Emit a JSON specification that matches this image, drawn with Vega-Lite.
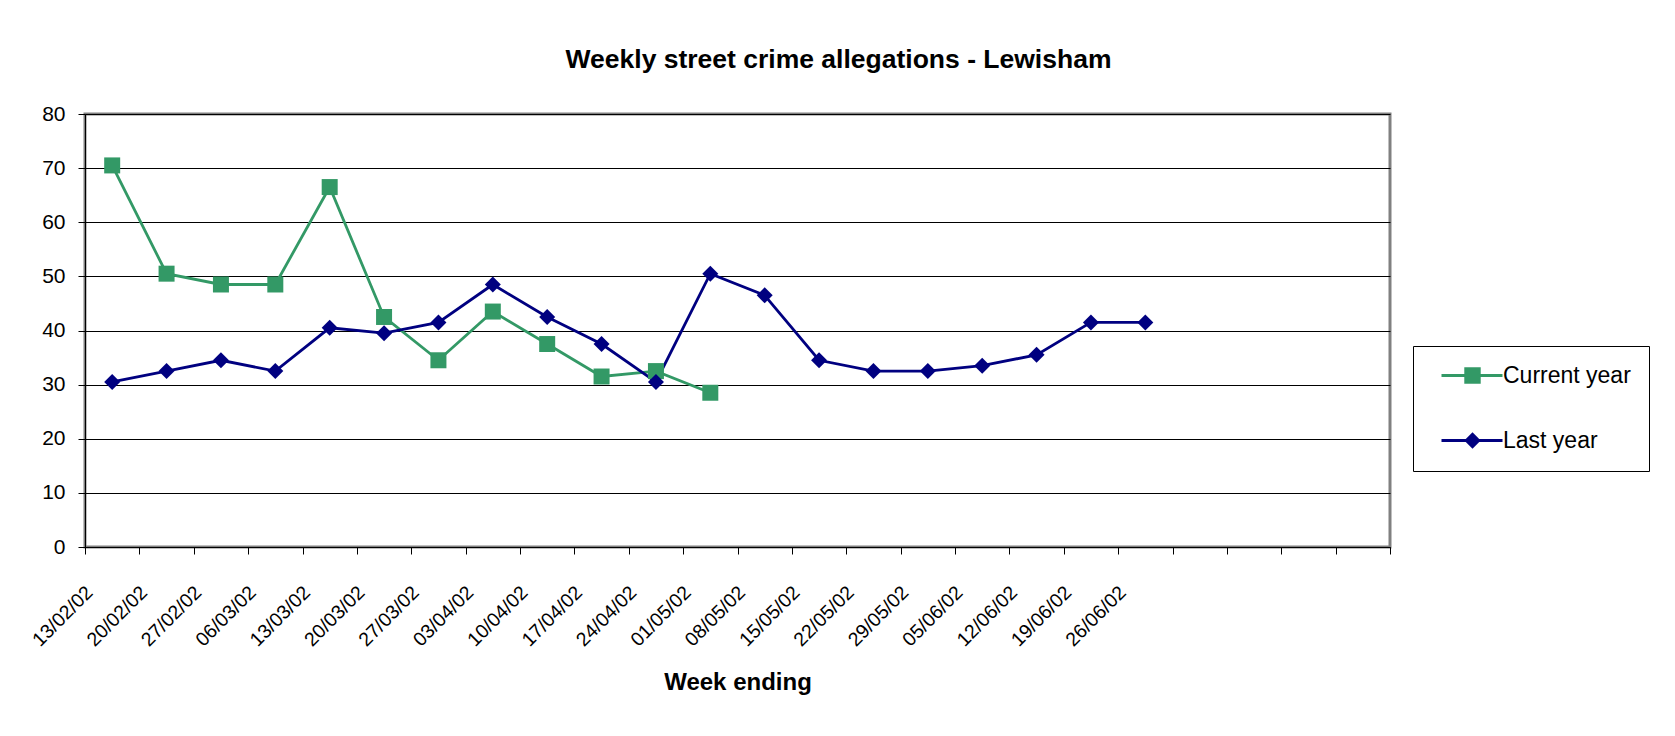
{
  "$schema": "https://vega.github.io/schema/vega-lite/v6.json",
  "autosize": "none",
  "width": 1305,
  "height": 433,
  "padding": {"left": 85, "top": 114, "right": 285, "bottom": 189},
  "background": "white",
  "title": {
    "text": "Weekly street crime allegations - Lewisham",
    "font": "Liberation Sans",
    "fontSize": 26.5,
    "fontWeight": "bold",
    "color": "black",
    "anchor": "middle",
    "frame": "group",
    "dx": 101,
    "baseline": "alphabetic",
    "offset": 9
  },
  "config": {
    "view": {"stroke": "#808080", "strokeWidth": 3},
    "font": "Liberation Sans"
  },
  "data": {
    "values": [
      {"week": "13/02/02", "series": "Current year", "allegations": 70.5},
      {"week": "20/02/02", "series": "Current year", "allegations": 50.5},
      {"week": "27/02/02", "series": "Current year", "allegations": 48.5},
      {"week": "06/03/02", "series": "Current year", "allegations": 48.5},
      {"week": "13/03/02", "series": "Current year", "allegations": 66.5},
      {"week": "20/03/02", "series": "Current year", "allegations": 42.5},
      {"week": "27/03/02", "series": "Current year", "allegations": 34.5},
      {"week": "03/04/02", "series": "Current year", "allegations": 43.5},
      {"week": "10/04/02", "series": "Current year", "allegations": 37.5},
      {"week": "17/04/02", "series": "Current year", "allegations": 31.5},
      {"week": "24/04/02", "series": "Current year", "allegations": 32.5},
      {"week": "01/05/02", "series": "Current year", "allegations": 28.5},
      {"week": "13/02/02", "series": "Last year", "allegations": 30.5},
      {"week": "20/02/02", "series": "Last year", "allegations": 32.5},
      {"week": "27/02/02", "series": "Last year", "allegations": 34.5},
      {"week": "06/03/02", "series": "Last year", "allegations": 32.5},
      {"week": "13/03/02", "series": "Last year", "allegations": 40.5},
      {"week": "20/03/02", "series": "Last year", "allegations": 39.5},
      {"week": "27/03/02", "series": "Last year", "allegations": 41.5},
      {"week": "03/04/02", "series": "Last year", "allegations": 48.5},
      {"week": "10/04/02", "series": "Last year", "allegations": 42.5},
      {"week": "17/04/02", "series": "Last year", "allegations": 37.5},
      {"week": "24/04/02", "series": "Last year", "allegations": 30.5},
      {"week": "01/05/02", "series": "Last year", "allegations": 50.5},
      {"week": "08/05/02", "series": "Last year", "allegations": 46.5},
      {"week": "15/05/02", "series": "Last year", "allegations": 34.5},
      {"week": "22/05/02", "series": "Last year", "allegations": 32.5},
      {"week": "29/05/02", "series": "Last year", "allegations": 32.5},
      {"week": "05/06/02", "series": "Last year", "allegations": 33.5},
      {"week": "12/06/02", "series": "Last year", "allegations": 35.5},
      {"week": "19/06/02", "series": "Last year", "allegations": 41.5},
      {"week": "26/06/02", "series": "Last year", "allegations": 41.5}
    ]
  },
  "encoding": {
    "x": {
      "field": "week",
      "type": "ordinal",
      "scale": {
        "type": "band",
        "domain": ["13/02/02", "20/02/02", "27/02/02", "06/03/02", "13/03/02", "20/03/02", "27/03/02", "03/04/02", "10/04/02", "17/04/02", "24/04/02", "01/05/02", "08/05/02", "15/05/02", "22/05/02", "29/05/02", "05/06/02", "12/06/02", "19/06/02", "26/06/02", " ", "  ", "   ", "    "],
        "paddingInner": 0,
        "paddingOuter": 0
      },
      "axis": {
        "title": "Week ending",
        "titleFont": "Liberation Sans",
        "titleFontSize": 24,
        "titleFontWeight": "bold",
        "titleColor": "black",
        "titlePadding": 21,
        "domainColor": "black",
        "domainWidth": 1,
        "tickColor": "black",
        "tickWidth": 1,
        "tickSize": 7,
        "tickBand": "extent",
        "grid": false,
        "labelAngle": -45,
        "labelAlign": "right",
        "labelBaseline": "middle",
        "labelFont": "Liberation Sans",
        "labelFontSize": 19.5,
        "labelColor": "black",
        "labelPadding": 35,
        "labelOffset": -23,
        "labelOverlap": false
      }
    },
    "y": {
      "field": "allegations",
      "type": "quantitative",
      "scale": {"domain": [0, 80], "nice": false},
      "axis": {
        "title": null,
        "values": [0, 10, 20, 30, 40, 50, 60, 70, 80],
        "domainColor": "black",
        "domainWidth": 1,
        "tickColor": "black",
        "tickWidth": 1,
        "tickSize": 7,
        "grid": true,
        "gridColor": "black",
        "gridWidth": 1,
        "gridOpacity": 1,
        "labelFont": "Liberation Sans",
        "labelFontSize": 21,
        "labelColor": "black",
        "labelPadding": 13
      }
    }
  },
  "layer": [
    {
      "mark": {"type": "line", "strokeWidth": 2.8},
      "encoding": {
        "color": {
          "field": "series",
          "type": "nominal",
          "scale": {"domain": ["Current year", "Last year"], "range": ["#339966", "#000080"]},
          "legend": {
            "orient": "none",
            "legendX": 1328,
            "legendY": 232,
            "title": null,
            "symbolType": "stroke",
            "symbolSize": 3721,
            "symbolStrokeWidth": 3,
            "clipHeight": 23,
            "labelFont": "Liberation Sans",
            "labelFontSize": 23,
            "labelColor": "black",
            "labelOffset": -1,
            "symbolOffset": 9,
            "padding": 18,
            "rowPadding": 41,
            "strokeColor": "black"
          }
        },
        "order": {"value": null}
      }
    },
    {
      "mark": {"type": "point", "filled": true, "size": 256, "opacity": 1},
      "encoding": {
        "fill": {
          "field": "series",
          "type": "nominal",
          "scale": {"range": ["#339966", "#000080"]},
          "legend": {
            "orient": "none",
            "legendX": 1328,
            "legendY": 232,
            "title": null,
            "symbolSize": 270,
            "symbolStrokeWidth": 0,
            "clipHeight": 23,
            "labelExpr": "''",
            "labelFont": "Liberation Sans",
            "labelFontSize": 23,
            "labelOpacity": 0,
            "labelOffset": 3,
            "symbolOffset": 30,
            "padding": 18,
            "rowPadding": 41
          }
        },
        "shape": {
          "field": "series",
          "type": "nominal",
          "scale": {"range": ["square", "diamond"]},
          "legend": {
            "orient": "none",
            "legendX": 1328,
            "legendY": 232,
            "title": null,
            "symbolSize": 270,
            "symbolStrokeWidth": 0,
            "clipHeight": 23,
            "labelExpr": "''",
            "labelFont": "Liberation Sans",
            "labelFontSize": 23,
            "labelOpacity": 0,
            "labelOffset": 3,
            "symbolOffset": 30,
            "padding": 18,
            "rowPadding": 41
          }
        }
      }
    }
  ]
}
